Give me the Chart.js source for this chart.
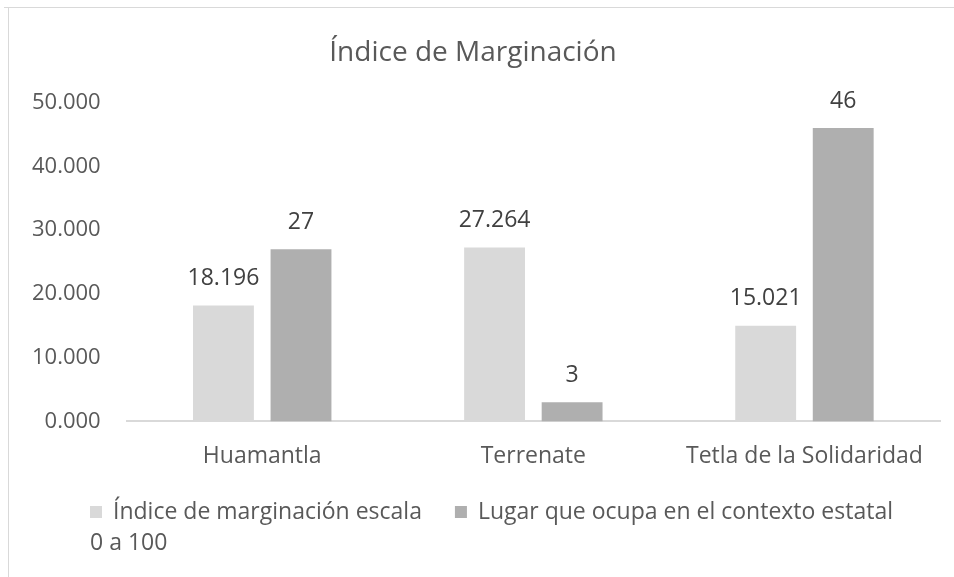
<!DOCTYPE html>
<html>
<head>
<meta charset="utf-8">
<script src="https://cdn.jsdelivr.net/npm/chart.js@4.4.1/dist/chart.umd.min.js"></script>
<style>
  html, body { margin: 0; padding: 0; background: #fff; }
  #wrap { width: 954px; height: 577px; }
</style>
</head>
<body>
<div id="wrap"><canvas id="grafico" width="954" height="577"></canvas></div>
<script>
//--Datos----------------------------
var categorias = ['Huamantla', 'Terrenate', 'Tetla de la Solidaridad'];
var indiceMarginacion = [18.196, 27.264, 15.021];
var lugarEstatal = [27, 3, 46];
var etiquetasSeries = [['Índice de marginación escala', '0 a 100'], ['Lugar que ocupa en el contexto estatal']];
var decimalesSeries = [3, 0];
var ejeY = { min: 0, max: 50, paso: 10 };

var fuente = "'Open Sans', 'DejaVu Sans', sans-serif";
var colorTexto = '#595959';

//--Marco del grafico----------------------------
var marcoPlugin = {
    id: 'marco',
    beforeDraw: function(chart) {
        var ctx = chart.ctx;
        ctx.save();
        ctx.strokeStyle = '#d9d9d9';
        ctx.lineWidth = 1;
        ctx.beginPath();
        ctx.moveTo(4, 7.5);
        ctx.lineTo(chart.width, 7.5);
        ctx.moveTo(8.5, 7);
        ctx.lineTo(8.5, chart.height);
        ctx.stroke();
        ctx.restore();
    }
};

//--Etiquetas de valores sobre las barras----------------------------
var etiquetasPlugin = {
    id: 'etiquetas',
    afterDatasetsDraw: function(chart) {
        var ctx = chart.ctx;
        ctx.save();
        ctx.font = '23px ' + fuente;
        ctx.fillStyle = '#404040';
        ctx.textAlign = 'center';
        ctx.textBaseline = 'middle';
        chart.data.datasets.forEach(function(ds, i) {
            var meta = chart.getDatasetMeta(i);
            meta.data.forEach(function(barra, j) {
                var txt = ds.data[j].toFixed(decimalesSeries[i]);
                ctx.fillText(txt, barra.x, barra.y - 27);
            });
        });
        ctx.restore();
    }
};

//--Leyenda inferior (con texto en dos lineas)----------------------------
var leyendaPlugin = {
    id: 'leyenda',
    afterDraw: function(chart) {
        var ctx = chart.ctx;
        ctx.save();
        ctx.font = '23px ' + fuente;
        ctx.fillStyle = colorTexto;
        ctx.textAlign = 'left';
        ctx.textBaseline = 'middle';
        var x = 90;
        var y = 512;
        chart.data.datasets.forEach(function(ds, i) {
            var lineas = etiquetasSeries[i];
            ctx.fillStyle = ds.backgroundColor;
            ctx.fillRect(x, y - 6, 12, 12);
            ctx.fillStyle = colorTexto;
            var ancho = 0;
            lineas.forEach(function(l, k) {
                ctx.fillText(l, x + (k === 0 ? 23 : 0), y + k * 31);
                ancho = Math.max(ancho, ctx.measureText(l).width);
            });
            x += 23 + ancho + 33;
        });
        ctx.restore();
    }
};

var ctx = document.getElementById('grafico').getContext('2d');
var miGrafico = new Chart(ctx, {
    type: 'bar',
    data: {
        labels: categorias,
        datasets: [{
            label: etiquetasSeries[0].join(' '),
            data: indiceMarginacion,
            backgroundColor: '#d9d9d9'
        }, {
            label: etiquetasSeries[1].join(' '),
            data: lugarEstatal,
            backgroundColor: '#afafaf'
        }]
    },
    options: {
        responsive: false,
        animation: false,
        events: [],
        categoryPercentage: 0.572,
        barPercentage: 0.785,
        layout: {
            padding: { top: 6, left: 6, right: 14, bottom: 94 }
        },
        plugins: {
            legend: { display: false },
            tooltip: { enabled: false },
            title: {
                display: true,
                text: 'Índice de Marginación',
                color: colorTexto,
                font: { family: fuente, size: 28, weight: 'normal', lineHeight: 1.2 },
                padding: { top: 30, bottom: 33 }
            }
        },
        scales: {
            x: {
                grid: { display: false },
                border: { display: true, color: '#d9d9d9', width: 2 },
                ticks: {
                    color: colorTexto,
                    font: { family: fuente, size: 23 },
                    padding: 13,
                    maxRotation: 0
                }
            },
            y: {
                min: ejeY.min,
                max: ejeY.max,
                grid: { display: false, drawTicks: false },
                border: { display: false },
                ticks: {
                    stepSize: ejeY.paso,
                    color: colorTexto,
                    font: { family: fuente, size: 22 },
                    padding: 26,
                    callback: function(v) { return v.toFixed(3); }
                }
            }
        }
    },
    plugins: [marcoPlugin, etiquetasPlugin, leyendaPlugin]
});
</script>
</body>
</html>
